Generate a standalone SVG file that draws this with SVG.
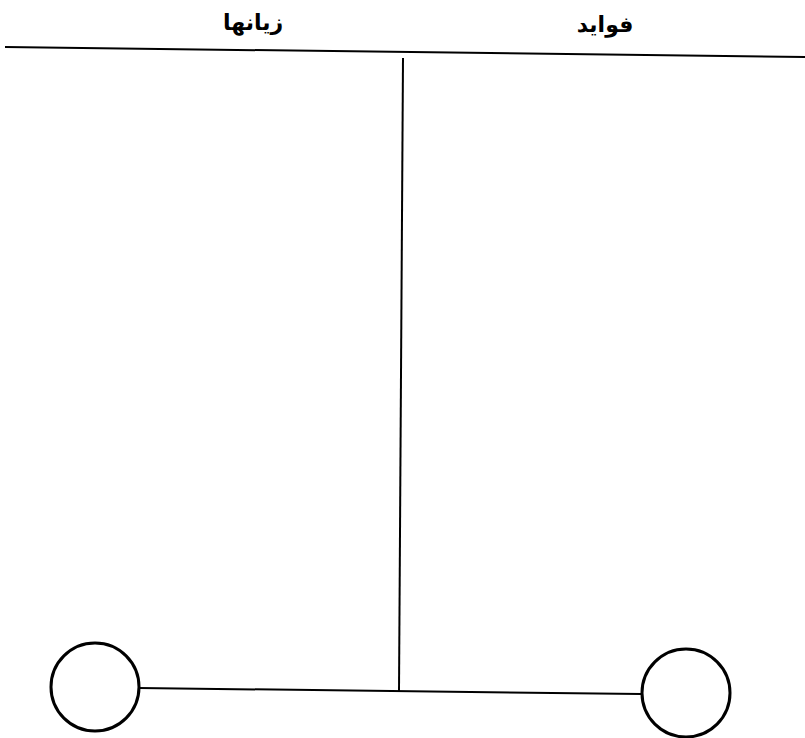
<svg xmlns="http://www.w3.org/2000/svg" width="805" height="738" viewBox="0 0 805 738">
<style>
.ln{stroke:#000;stroke-width:2;fill:none}
.nd{stroke:#000;stroke-width:3;fill:#fff}
.hd{font-family:"DejaVu Sans","Noto Sans",sans-serif;font-size:22px;font-weight:bold;fill:#000;text-anchor:middle}
</style>
<rect width="805" height="738" fill="#fff"/>
<g id="connectors">
<line class="ln" x1="5" y1="47" x2="805" y2="57"/>
<line class="ln" x1="403" y1="58" x2="399" y2="691"/>
<line class="ln" x1="139" y1="688" x2="641" y2="694"/>
</g>
<g id="header-left"><text class="hd" x="253" y="30" direction="rtl">زیانها</text></g>
<g id="header-right"><text class="hd" x="605" y="32" direction="rtl">فواید</text></g>
<g id="node-left"><circle class="nd" cx="95" cy="687" r="44"/></g>
<g id="node-right"><circle class="nd" cx="686" cy="693" r="44"/></g>
</svg>
